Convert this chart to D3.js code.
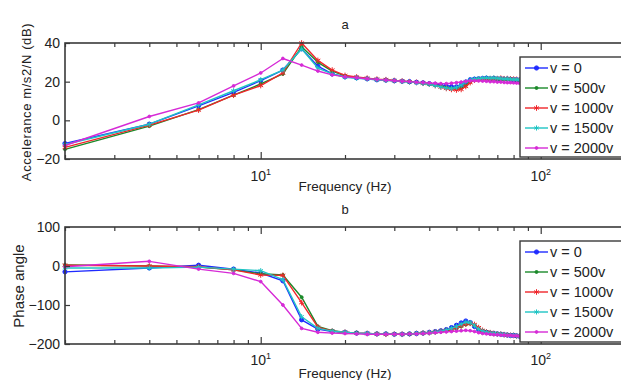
<!DOCTYPE html>
<html>
<head>
<meta charset="utf-8">
<script src="https://cdn.jsdelivr.net/npm/d3@7/dist/d3.min.js"></script>
<style>
  html, body { margin: 0; padding: 0; background: #fff; }
  svg { display: block; font-family: "Liberation Sans", Arial, sans-serif; }
</style>
</head>
<body>
<svg id="chart" width="621" height="380"></svg>
<script>
// ---------------- DATA ----------------
const freqs = [2,4,6,8,10,12,14,16,18,20,22,24,26,28,30,32,34,36,38,40,42,44,46,48,50,52,54,56,58,60,62,64,66,68,70,72,74,76,78,80,82,84];

const seriesNames = ["v = 0", "v = 500v", "v = 1000v", "v = 1500v", "v = 2000v"];

// Accelerance (dB)
const accV0    = [-12,-2,7.5,14.5,20.5,26,37,28,24,22.5, 22,21.5,21,20.8,20.5,20.2,20,19.7,19.4,19, 18.6,18.2,17.8,17.4,17.3,18.2,19.8,21,21.3,21.5, 21.6,21.8,21.5,21.7,21.4,21.5,21.3,21.4,21.2,21, 21,20.8];
const accV500  = [-15,-3,5.5,13,18.8,24,38,30,25.5,23, 22.2,21.6,21.2,20.8,20.5,20.2,19.9,19.6,19.2,18.8, 18.2,17.6,17,16.5,16.2,16.6,18,20,21,21.3, 21.5,21.5,21.3,21.5,21.2,21.3,21,21.2,21,21, 20.8,20.8];
const accV1000 = [-14,-2.5,5.3,13,18,24.5,40,31,26,23.2, 22.4,21.8,21.3,21,20.6,20.3,20,19.6,19.2,18.7, 18,17.2,16.5,16,15.7,16,17.5,19.5,20.8,21.2, 21.4,21.6,21.4,21.6,21.5,21.8,21.5,21.6,21.4,21.3, 21.2,21];
const accV1500 = [-12.5,-2,8,15.3,21,26,37,27,24,22.3, 21.8,21.4,21,20.7,20.4,20.1,19.8,19.5,19.1,18.6, 18,17.3,16.8,16.5,17,18.2,20,21,21.4,21.6, 21.8,22,21.8,22,21.7,21.6,21.4,21.5,21.2,21.1, 21,21];
const accV2000 = [-13,2,9,17.8,24.5,32,28.6,25.5,23.5,22.5, 22,21.5,21.2,20.8,20.5,20.2,20,19.7,19.5,19.3, 19.2,19,19,19.2,19.5,19.8,20.2,20.5,20.5,20.4, 20.3,20.2,20,20,19.8,19.8,19.6,19.5,19.5,19.4, 19.3,19.2];

// Phase angle
const phV0    = [-15,-5,2,-8,-18,-38,-138,-162,-168,-170, -172,-173,-174,-174,-175,-175,-174,-173,-172,-170, -168,-166,-163,-158,-152,-146,-141,-145,-155,-163, -168,-170,-172,-173,-174,-175,-176,-177,-178,-178, -179,-180];
const phV500  = [3,0,-3,-10,-20,-23,-80,-155,-166,-170, -172,-173,-174,-175,-175,-175,-174,-173,-172,-171, -170,-168,-166,-163,-160,-155,-150,-148,-152,-160, -166,-170,-172,-173,-174,-175,-176,-177,-178,-178, -179,-180];
const phV1000 = [2,0,-2,-10,-23,-24,-94,-157,-167,-170, -172,-173,-174,-175,-175,-175,-174,-173,-172,-171, -169,-167,-165,-162,-158,-153,-149,-147,-150,-158, -165,-169,-171,-173,-174,-175,-176,-177,-178,-178, -179,-180];
const phV1500 = [-5,-5,-3,-8,-12,-35,-130,-160,-167,-170, -172,-173,-174,-174,-175,-175,-174,-173,-172,-171, -169,-167,-164,-160,-155,-149,-144,-145,-153,-162, -167,-170,-172,-173,-174,-175,-176,-177,-178,-178, -179,-180];
const phV2000 = [-2,12,-8,-19,-40,-100,-160,-170,-172,-173, -174,-175,-175,-175,-175,-175,-174,-174,-173,-172, -171,-170,-169,-168,-167,-166,-165,-166,-168,-171, -173,-174,-175,-176,-176,-177,-177,-178,-178,-179, -179,-180];

const accTicks = [-20, 0, 20, 40];
const phTicks = [-200, -100, 0, 100];
const xMajor = [10, 100];
const xMinor = [2,3,4,5,6,7,8,9,20,30,40,50,60,70,80,90,200];

// ---------------- STYLE ----------------
const colors = ["#1f2bff", "#1b8a2a", "#f0262a", "#1fc4c4", "#d62ad6"];
const markers = [
  {type: d3.symbolCircle, size: 14, fill: true},
  {type: d3.symbolCircle, size: 7, fill: true},
  {type: d3.symbolAsterisk, size: 22, fill: false},
  {type: d3.symbolAsterisk, size: 18, fill: false},
  {type: d3.symbolCircle, size: 6, fill: true}
];

const svg = d3.select("#chart");
const axisColor = "#3a3a3a";

const x = d3.scaleLog().domain([2, 200]).range([65, 625]);

function panel(cfg) {
  const y = d3.scaleLinear().domain(cfg.yDomain).range([cfg.bottom, cfg.top]);
  const g = svg.append("g");

  // series
  cfg.series.forEach((vals, i) => {
    const pts = freqs.map((f, k) => [f, vals[k]]);
    const line = d3.line().x(d => x(d[0])).y(d => y(d[1]));
    g.append("path").datum(pts)
      .attr("d", line).attr("fill", "none")
      .attr("stroke", colors[i]).attr("stroke-width", 1.4)
      .attr("stroke-linejoin", "round");
    const sym = d3.symbol().type(markers[i].type).size(markers[i].size);
    g.selectAll(null).data(pts).enter().append("path")
      .attr("d", sym)
      .attr("transform", d => `translate(${x(d[0])},${y(d[1])})`)
      .attr("fill", markers[i].fill ? colors[i] : "none")
      .attr("stroke", colors[i]).attr("stroke-width", 1);
  });

  // axes (ticks inside)
  const bot = g.append("g").attr("transform", `translate(0,${cfg.bottom})`);
  bot.call(d3.axisBottom(x).tickValues(xMinor).tickSize(-4).tickFormat(""));
  const botMaj = g.append("g").attr("transform", `translate(0,${cfg.bottom})`);
  botMaj.call(d3.axisBottom(x).tickValues(xMajor).tickSize(-7).tickFormat(""));
  const top = g.append("g").attr("transform", `translate(0,${cfg.top})`);
  top.call(d3.axisTop(x).tickValues(xMinor).tickSize(-4).tickFormat(""));
  const topMaj = g.append("g").attr("transform", `translate(0,${cfg.top})`);
  topMaj.call(d3.axisTop(x).tickValues(xMajor).tickSize(-7).tickFormat(""));
  const left = g.append("g").attr("transform", `translate(${x.range()[0]},0)`);
  left.call(d3.axisLeft(y).tickValues(cfg.yTicks).tickSize(-5).tickPadding(5).tickFormat(d3.format("d")));

  g.selectAll(".domain").remove();
  g.selectAll(".tick line").attr("stroke", axisColor).attr("stroke-width", 1.2);
  left.selectAll("text").attr("font-size", 14).attr("fill", "#222")
    .attr("font-family", "Liberation Sans, Arial, sans-serif");

  // box
  g.append("rect")
    .attr("x", x.range()[0]).attr("y", cfg.top)
    .attr("width", x.range()[1] - x.range()[0]).attr("height", cfg.bottom - cfg.top)
    .attr("fill", "none").attr("stroke", axisColor).attr("stroke-width", 1.6);

  // x tick labels 10^1, 10^2
  xMajor.forEach(v => {
    const t = g.append("text")
      .attr("x", x(v)).attr("y", cfg.bottom + cfg.xLabelOff)
      .attr("text-anchor", "middle").attr("font-size", 14).attr("fill", "#222");
    t.append("tspan").text("10");
    t.append("tspan").attr("dy", -6).attr("font-size", 9).text(String(Math.round(Math.log10(v))));
  });

  // x axis title
  g.append("text").attr("x", 345).attr("y", cfg.xTitleY)
    .attr("text-anchor", "middle").attr("font-size", 13.5).attr("fill", "#222")
    .text("Frequency (Hz)");

  // panel title
  g.append("text").attr("x", 345).attr("y", cfg.titleY)
    .attr("text-anchor", "middle").attr("font-size", 13).attr("fill", "#222")
    .text(cfg.title);

  // y label
  g.append("text")
    .attr("transform", `translate(${cfg.yLabelX},${cfg.yLabelY}) rotate(-90)`)
    .attr("text-anchor", "middle").attr("font-size", cfg.yLabelSize).attr("fill", "#222")
    .attr("letter-spacing", cfg.yLabelSpacing || 0)
    .text(cfg.yLabel);

  // legend
  const lg = g.append("g");
  lg.append("rect").attr("x", 520).attr("y", cfg.legTop)
    .attr("width", 130).attr("height", cfg.legH)
    .attr("fill", "#fff").attr("stroke", axisColor).attr("stroke-width", 1.4);
  seriesNames.forEach((name, i) => {
    const cy = cfg.legTop + 11 + i * 20;
    lg.append("line").attr("x1", 525).attr("x2", 548).attr("y1", cy).attr("y2", cy)
      .attr("stroke", colors[i]).attr("stroke-width", 1.4);
    lg.append("path").attr("d", d3.symbol().type(markers[i].type).size(markers[i].size)())
      .attr("transform", `translate(536.5,${cy})`)
      .attr("fill", markers[i].fill ? colors[i] : "none")
      .attr("stroke", colors[i]).attr("stroke-width", 1);
    lg.append("text").attr("x", 550).attr("y", cy + 5)
      .attr("font-size", 14.5).attr("fill", "#222").text(name);
  });
}

panel({
  top: 43, bottom: 159, yDomain: [-20, 40], yTicks: accTicks,
  series: [accV0, accV500, accV1000, accV1500, accV2000],
  xLabelOff: 22, xTitleY: 191, titleY: 29, title: "a",
  yLabel: "Accelerance  m/s2/N (dB)", yLabelX: 31, yLabelY: 102, yLabelSize: 13, yLabelSpacing: 0.6,
  legTop: 57, legH: 100
});

panel({
  top: 227, bottom: 344, yDomain: [-200, 100], yTicks: phTicks,
  series: [phV0, phV500, phV1000, phV1500, phV2000],
  xLabelOff: 21, xTitleY: 378, titleY: 214, title: "b",
  yLabel: "Phase angle", yLabelX: 24, yLabelY: 286, yLabelSize: 15, yLabelSpacing: 0,
  legTop: 241, legH: 101
});
</script>
</body>
</html>
